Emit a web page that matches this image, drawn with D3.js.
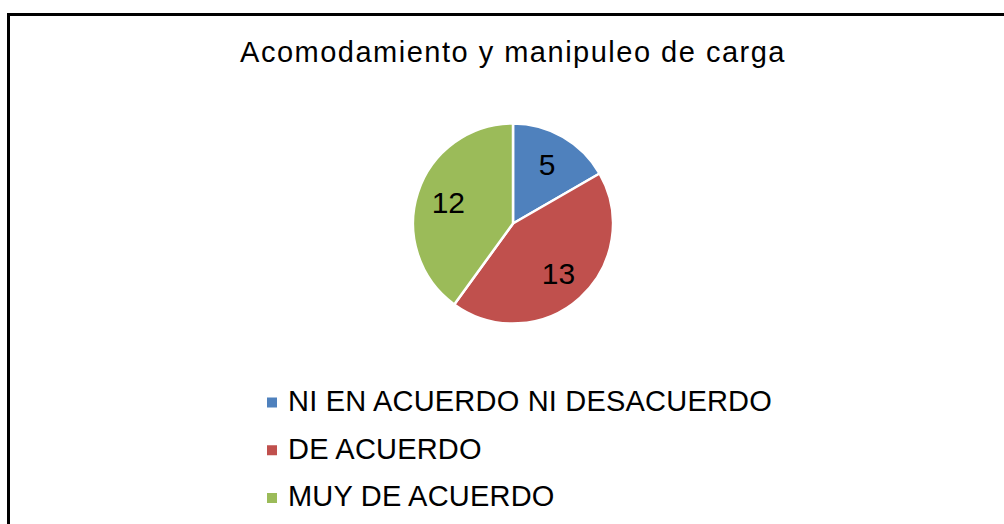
<!DOCTYPE html>
<html><head><meta charset="utf-8">
<script src="https://cdn.jsdelivr.net/npm/d3@7"></script>
<style>html,body{margin:0;padding:0;background:#fff;}svg{display:block;}</style>
</head><body>
<svg id="c" width="1004" height="524"></svg>
<script>
const categories = ["NI EN ACUERDO NI DESACUERDO", "DE ACUERDO", "MUY DE ACUERDO"];
const values = [5, 13, 12];
const colors = ["#4F81BD", "#C0504D", "#9BBB59"];
const title = "Acomodamiento y manipuleo de carga";

const svg = d3.select("#c");
const font = "Liberation Sans, Arial, sans-serif";

// frame
svg.append("rect").attr("x", 8.5).attr("y", 14.5).attr("width", 1010).attr("height", 530)
  .attr("fill", "#fff").attr("stroke", "#000").attr("stroke-width", 3);

svg.append("text").attr("x", 513).attr("y", 61.5).attr("text-anchor", "middle")
  .attr("font-family", font).attr("font-size", 29).attr("letter-spacing", 1.5)
  .attr("fill", "#000").text(title);

const cx = 513, cy = 223.5, R = 100;
const data = categories.map((c, i) => ({c, v: values[i], col: colors[i]}));
const pie = d3.pie().value(d => d.v).sort(null);
const arcs = pie(data);
const arc = d3.arc().innerRadius(0).outerRadius(R);
const labelArc = d3.arc().innerRadius(R * 0.68).outerRadius(R * 0.68);

const g = svg.append("g").attr("transform", `translate(${cx},${cy})`);
g.selectAll("path").data(arcs).enter().append("path")
  .attr("d", arc).attr("fill", d => d.data.col)
  .attr("stroke", "#fff").attr("stroke-width", 2.5).attr("stroke-linejoin", "round");

g.selectAll("text.lbl").data(arcs).enter().append("text").attr("class", "lbl")
  .attr("transform", d => `translate(${labelArc.centroid(d)})`)
  .attr("text-anchor", "middle").attr("dy", "0.34em")
  .attr("font-family", font).attr("font-size", 30).attr("fill", "#000")
  .text(d => d.data.v);

const y = d3.scalePoint().domain(categories).range([402.5, 498]);
const leg = svg.append("g");
const items = leg.selectAll("g").data(data).enter().append("g")
  .attr("transform", d => `translate(267,${y(d.c)})`);
items.append("rect").attr("x", 0).attr("y", -5).attr("width", 10).attr("height", 10)
  .attr("fill", d => d.col);
items.append("text").attr("x", 21).attr("dy", "0.29em")
  .attr("font-family", font).attr("font-size", 29).attr("letter-spacing", 0.2)
  .attr("fill", "#000").text(d => d.c);
</script>
</body></html>
